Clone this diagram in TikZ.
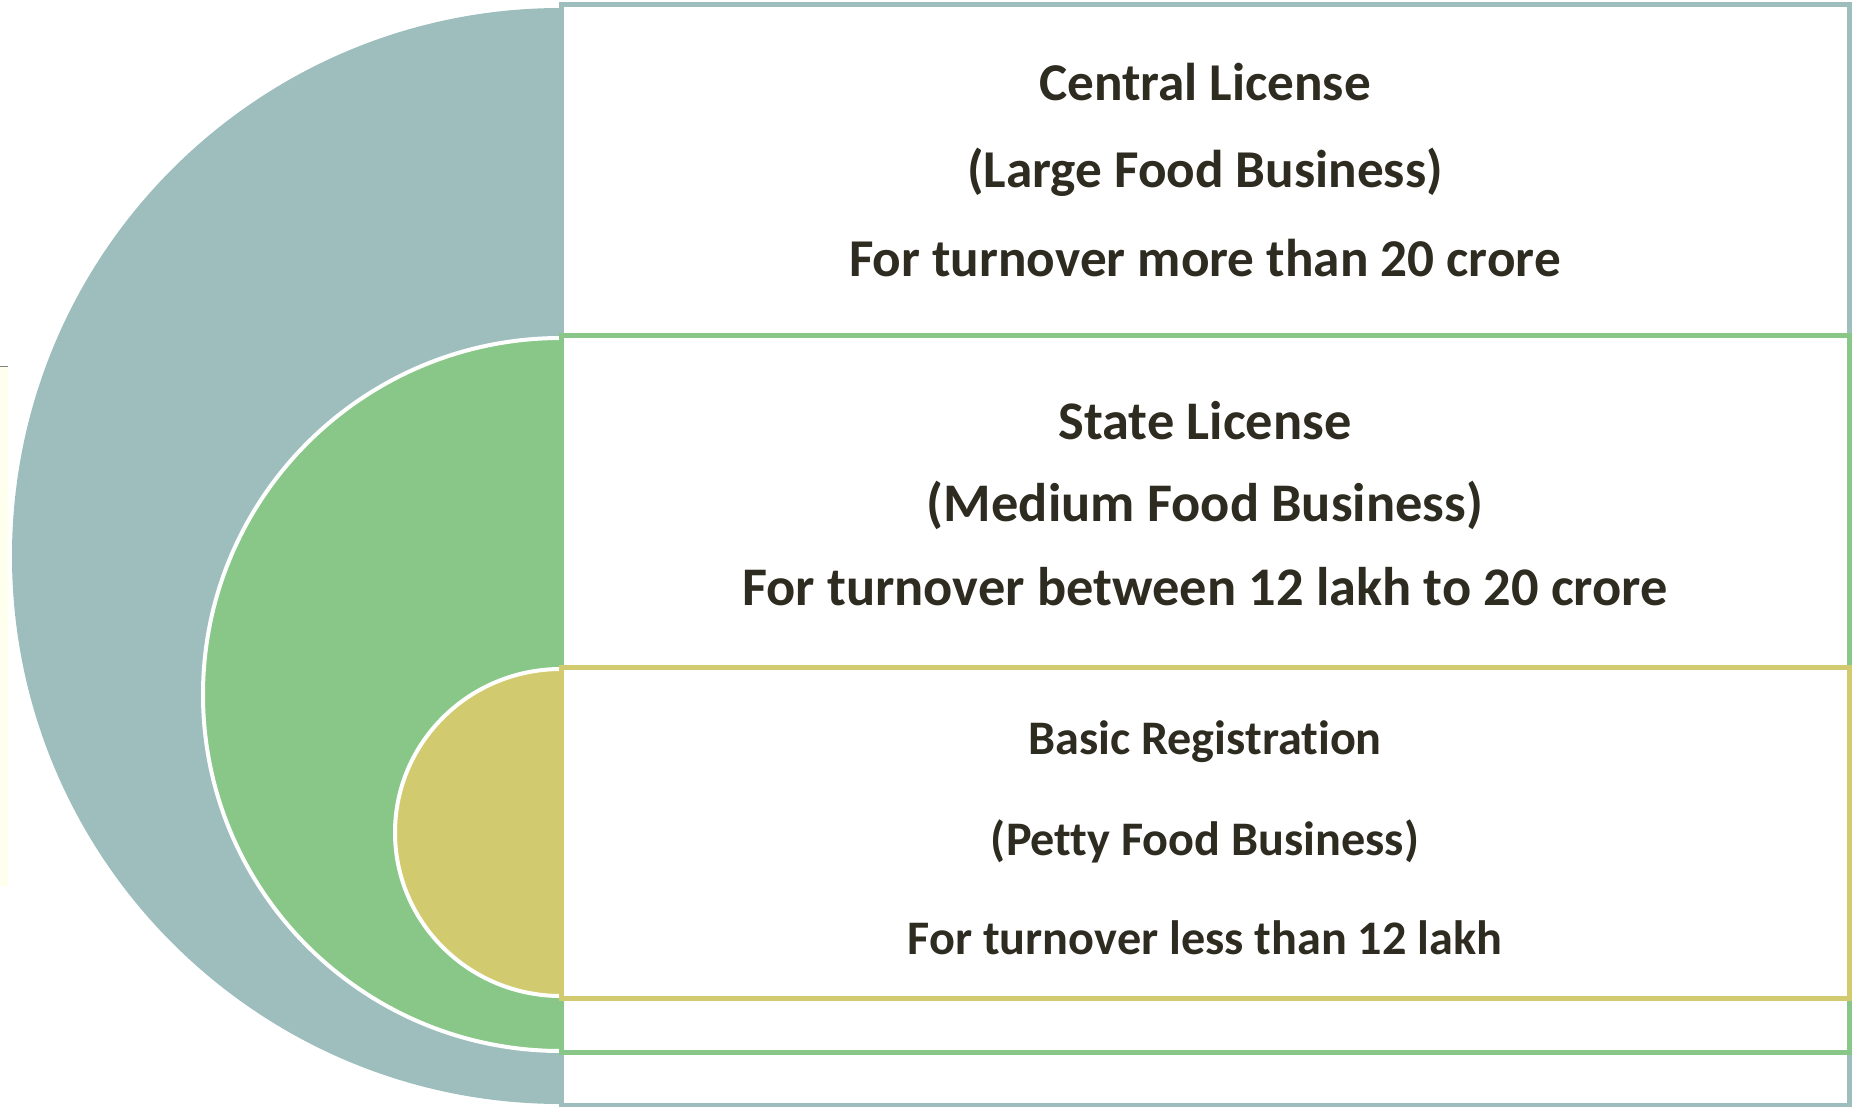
\documentclass[tikz,border=0pt]{standalone}
\usepackage{fontspec}
\setmainfont{Carlito}[Ligatures={NoCommon}]
\definecolor{cTeal}{HTML}{9DBEBD}
\definecolor{cGreen}{HTML}{88C788}
\definecolor{cYellow}{HTML}{D2CA6E}
\definecolor{cText}{HTML}{2E2B20}
\definecolor{cPale}{HTML}{FFFFEE}
\tikzset{
  box/.style={line width=2.5pt, fill=white},
  rim/.style={draw=white, line width=2pt},
  lbl/.style={anchor=base, text=cText, inner sep=0pt, font=\bfseries},
  bigtxt/.style={lbl, font=\bfseries\fontsize{26.6}{30}\selectfont},
  midtxt/.style={lbl, font=\bfseries\fontsize{27.2}{30}\selectfont},
  smalltxt/.style={lbl, font=\bfseries\fontsize{24.1}{28}\selectfont}
}
\begin{document}
\begin{tikzpicture}[x=0.5pt, y=-0.5pt]
\useasboundingbox (0,0) rectangle (1852,1107);
% left edge sliver
\fill[cPale] (0,366) rectangle (8,886);
\draw[gray, line width=0.5pt] (0,366) -- (8,366);
% teal level
\fill[cTeal] (561,8) arc[start angle=270, end angle=90, x radius=549, y radius=548] -- cycle;
\draw[box, draw=cTeal] (561,4.5) rectangle (1849.5,1105);
% green level
\fill[cGreen] (561,338) arc[start angle=270, end angle=90, x radius=358, y radius=356.5] -- cycle;
\draw[rim] (561,338) arc[start angle=270, end angle=90, x radius=358, y radius=356.5];
\draw[box, draw=cGreen] (561,335.5) rectangle (1849.5,1052);
% yellow level
\fill[cYellow] (561,669) arc[start angle=270, end angle=90, x radius=166, y radius=163.5] -- cycle;
\draw[rim] (561,669) arc[start angle=270, end angle=90, x radius=166, y radius=163.5];
\draw[box, draw=cYellow] (561,667) rectangle (1849.5,998);
% texts
\node[bigtxt] (c1) at (1205,101) {Central License};
\node[bigtxt] (c2) at (1205,188) {(Large Food Business)};
\node[bigtxt] (c3) at (1205,277) {For turnover more than 20 crore};
\node[midtxt] (s1) at (1205,439) {State License};
\node[midtxt] (s2) at (1205,521) {(Medium Food Business)};
\node[midtxt] (s3) at (1205,605) {For turnover between 12 lakh to 20 crore};
\node[smalltxt] (b1) at (1205,754) {Basic Registration};
\node[smalltxt] (b2) at (1205,855) {(Petty Food Business)};
\node[smalltxt] (b3) at (1205,954) {For turnover less than 12 lakh};
\end{tikzpicture}
\end{document}
